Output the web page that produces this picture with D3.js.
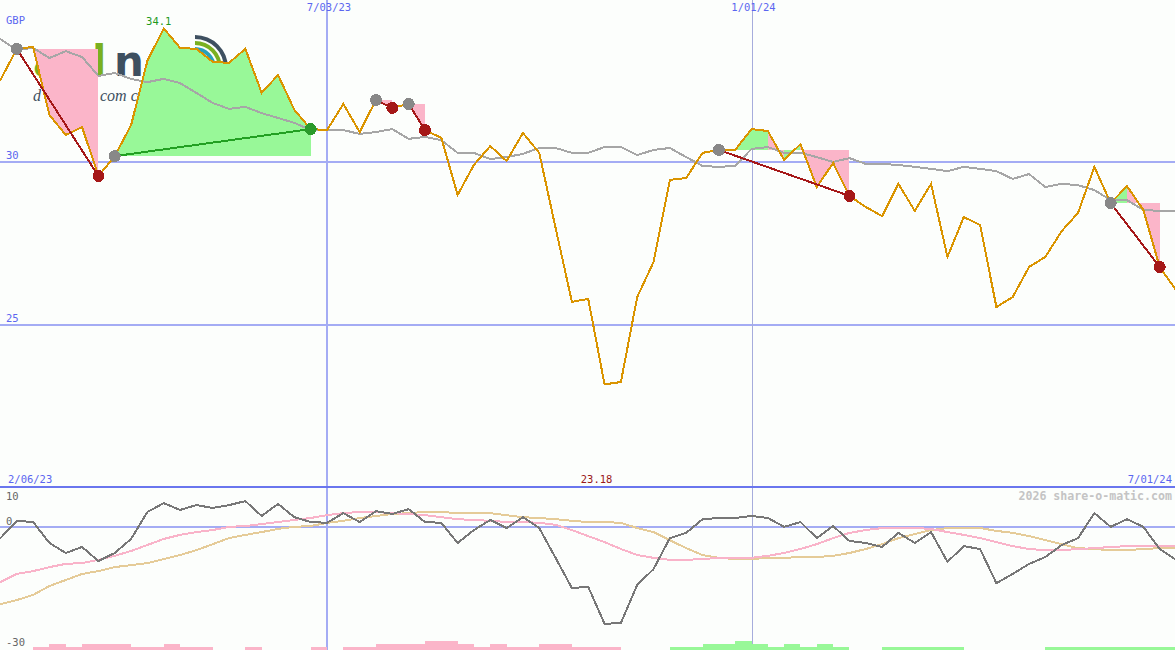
<!DOCTYPE html>
<html>
<head>
<meta charset="utf-8">
<script src="https://cdn.jsdelivr.net/npm/d3@7"></script>
<style>
  body { margin: 0; background: #fcfefc; overflow: hidden; }
  svg { display: block; font-family: "DejaVu Sans Mono", monospace; }
</style>
</head>
<body>
<div id="chart"></div>
<script>
// weekly closes, Mondays from firstWeek to lastWeek
var firstWeek = new Date(2023, 1, 6);
var lastWeek = new Date(2024, 6, 1);
var markerDates = [new Date(2023, 6, 3), new Date(2024, 0, 1)];

var price = [32.05, 32.52, 33.47, 33.53, 31.44, 30.83, 31.07, 29.57, 30.18, 31.13,
  33.10, 34.1, 33.50, 33.47, 33.07, 33.04, 33.47, 32.12, 32.67, 31.60,
  31.01, 30.98, 31.78, 30.92, 31.90, 31.66, 31.78, 30.98, 30.74, 28.99,
  29.91, 30.49, 30.03, 30.89, 30.28, 27.98, 25.71, 25.80, 23.18, 23.25,
  25.86, 26.93, 29.45, 29.51, 30.28, 30.37, 30.37, 31.01, 30.95, 30.06,
  30.55, 29.23, 29.97, 28.96, 28.62, 28.34, 29.33, 28.50, 29.33, 27.09,
  28.31, 28.07, 25.55, 25.86, 26.78, 27.09, 27.88, 28.44, 29.85, 28.74,
  29.26, 28.53, 26.78, 26.07];

var average = [33.90, 33.77, 33.44, 33.50, 33.19, 33.40, 33.22, 32.64, 32.73, 32.55,
  32.45, 32.55, 32.42, 32.12, 31.81, 31.63, 31.69, 31.50, 31.35, 31.20,
  30.98, 30.98, 30.98, 30.86, 30.92, 31.01, 30.71, 30.77, 30.67, 30.28,
  30.28, 30.09, 30.15, 30.25, 30.43, 30.43, 30.28, 30.28, 30.46, 30.46,
  30.21, 30.37, 30.43, 30.15, 29.88, 29.85, 29.88, 30.40, 30.46, 30.28,
  30.28, 30.15, 30.00, 30.12, 29.94, 29.94, 29.91, 29.85, 29.79, 29.72,
  29.85, 29.79, 29.72, 29.48, 29.63, 29.23, 29.33, 29.29, 29.14, 28.83,
  28.83, 28.53, 28.50, 28.50];

var momentum = [-4.4, -2.7, 1.6, 1.3, -3.9, -6.4, -4.9, -8.4, -6.4, -2.9,
  3.8, 6.0, 4.3, 5.5, 4.8, 5.5, 6.5, 2.8, 5.8, 2.5,
  1.3, 1.1, 3.5, 1.3, 4.0, 3.3, 4.5, 1.3, 1.1, -3.9,
  -0.7, 1.8, -0.2, 2.5, -0.2, -7.6, -15.1, -14.8, -24.0, -23.8,
  -14.3, -10.4, -2.7, -1.4, 2.0, 2.3, 2.3, 2.8, 2.3, 0.1,
  1.3, -2.7, 0.3, -3.4, -3.9, -4.9, -1.4, -3.9, -1.2, -8.6,
  -4.7, -5.4, -13.9, -11.6, -9.1, -7.4, -4.4, -2.7, 3.5, 0.1,
  2.0, 0.1, -5.4, -8.1];

var fastLine = [-14.3, -13.6, -11.6, -10.9, -9.9, -9.1, -8.9, -8.1, -7.1, -5.9,
  -4.4, -2.9, -1.9, -1.2, -0.7, 0.1, 0.3, 0.8, 1.3, 1.8,
  2.3, 3.0, 3.5, 3.8, 3.8, 3.5, 3.3, 3.0, 2.5, 2.0,
  1.8, 1.6, 1.3, 1.3, 1.1, 0.6, -0.7, -2.2, -3.7, -5.4,
  -6.9, -7.6, -8.1, -8.1, -7.9, -7.6, -7.6, -7.6, -7.1, -6.4,
  -5.4, -4.2, -2.7, -1.4, -0.7, -0.2, -0.2, -0.2, -0.4, -1.2,
  -1.9, -2.7, -3.7, -4.7, -5.4, -5.7, -5.7, -5.4, -5.2, -4.9,
  -4.7, -4.7, -4.7, -4.7];

var slowLine = [-19.8, -19.1, -18.1, -16.8, -14.6, -13.1, -11.6, -10.9, -9.9, -9.4,
  -8.9, -7.9, -6.9, -5.7, -4.2, -2.7, -1.9, -1.2, -0.4, 0.1,
  0.3, 1.1, 1.6, 2.3, 2.8, 3.3, 3.5, 3.8, 3.8, 3.5,
  3.5, 3.5, 3.0, 2.5, 2.3, 2.0, 1.6, 1.3, 1.3, 1.1,
  -0.2, -1.2, -3.2, -5.2, -6.9, -7.6, -7.9, -7.9, -7.6, -7.6,
  -7.4, -7.4, -7.1, -6.4, -5.4, -4.2, -2.7, -1.7, -0.7, -0.2,
  -0.2, -0.2, -0.9, -1.4, -2.2, -3.2, -4.2, -5.2, -5.4, -5.7,
  -5.7, -5.4, -5.2, -5.2];

// bar strip at the bottom: negative = pink, positive = green
var strength = [0, 0, 0, -1, -2, -1, -2, -2, -2, -1,
  -1, -2, -1, -1, 0, 0, -1, 0, 0, 0,
  -1, 0, -1, -1, -2, -2, -2, -3, -3, -2,
  -1, -2, -1, -1, -2, -2, -1, -1, -1, 0,
  0, 0, 1, 1, 2, 2, 3, 2, 1, 2,
  1, 2, 1, 0, 0, 1, 1, 1, 1, 1,
  0, 0, 0, 0, 0, 1, 1, 1, 1, 1,
  1, 1, 1, 1];

// signals, as week indexes
var tradeStart = [2, 8, 24, 26, 45, 69];
var tradeEnd = [7, 20, 25, 27, 53, 72];

var priceTicks = [30, 25];
var lowerTicks = [10, 0, -30];

var width = 1175;
var height = 650;

var weeks = d3.timeMonday.range(firstWeek, d3.timeDay.offset(lastWeek, 1));

var svg = d3.select("#chart").append("svg")
  .attr("width", width)
  .attr("height", height)
  .attr("shape-rendering", "crispEdges");

svg.append("rect").attr("width", width).attr("height", height).attr("fill", "#fcfefc");

var x = d3.scaleTime().domain(markerDates).range([327, 751.5]);
var y = d3.scaleLinear().domain([20, 35]).range([488, -1]);
var y2 = d3.scaleLinear().domain([-30, 10]).range([648, 487]);
var barH = d3.scaleLinear().domain([0, 3]).range([0, 9]);
var fmt = d3.timeFormat("%-m/%d/%y");

var blue = "#5b66f0";
var gridBlue = "#a4acf4";
var pink = "#fbb5c9";
var green = "#98f898";
var darkRed = "#a51818";

// ---------- watermark logo (mostly hidden under the fills) ----------
var logo = svg.append("g")
  .style("font-family", "DejaVu Sans").style("font-weight", "bold").style("font-size", "42px");
logo.append("text").attr("x", 33).attr("y", 76).attr("fill", "#7ab020").text("a");
logo.append("text").attr("x", 92).attr("y", 76).attr("fill", "#7ab020").text("l");
logo.append("text").attr("x", 114).attr("y", 76).attr("fill", "#3e5060").text("n");

var tagline = svg.append("g")
  .style("font-family", "Liberation Serif").style("font-style", "italic").style("font-size", "16px")
  .attr("fill", "#3e5060");
tagline.append("text").attr("x", 33).attr("y", 101).text("d");
tagline.append("text").attr("x", 100).attr("y", 101).text("com c");

var arcs = [[31, "#3e5060"], [25, "#7ab020"], [19, "#2aa0b8"]];
arcs.forEach(function(a) {
  logo.append("path")
    .attr("transform", "translate(195,68)")
    .attr("d", d3.arc().innerRadius(a[0] - 2).outerRadius(a[0] + 2).startAngle(0).endAngle(Math.PI / 2)())
    .attr("fill", a[1])
    .attr("shape-rendering", "auto");
});

// ---------- grid ----------
svg.selectAll(".pgrid")
  .data(priceTicks)
  .enter().append("line")
  .attr("x1", 0).attr("x2", width)
  .attr("y1", function(d) { return y(d); })
  .attr("y2", function(d) { return y(d); })
  .attr("stroke", gridBlue).attr("stroke-width", 2);

svg.append("line")
  .attr("x1", 0).attr("x2", width)
  .attr("y1", y2(0)).attr("y2", y2(0))
  .attr("stroke", gridBlue).attr("stroke-width", 2);

svg.selectAll(".vgrid")
  .data(markerDates)
  .enter().append("line")
  .attr("x1", function(d) { return Math.round(x(d)); })
  .attr("x2", function(d) { return Math.round(x(d)); })
  .attr("y1", 0).attr("y2", height)
  .attr("stroke", function(d, i) { return i == 0 ? gridBlue : "#a6acdc"; })
  .attr("stroke-width", function(d, i) { return i == 0 ? 2 : 1; });

svg.append("line")
  .attr("x1", 0).attr("x2", width)
  .attr("y1", y2(10)).attr("y2", y2(10))
  .attr("stroke", "#6a76ee").attr("stroke-width", 2);

// ---------- signal fills ----------
var fills = svg.append("g");
tradeStart.forEach(function(s, t) {
  var e = tradeEnd[t];
  var level = price[s];
  for (var i = s; i < e; i++) {
    var pts = [
      [x(weeks[i]), y(level)],
      [x(weeks[i]), y(price[i])],
      [x(weeks[i + 1]), y(price[i + 1])],
      [x(weeks[i + 1]), y(level)]
    ];
    fills.append("path")
      .attr("d", d3.line()(pts) + "Z")
      .attr("fill", price[i + 1] >= level ? green : pink);
  }
});

// ---------- price panel lines ----------
var priceLine = d3.line()
  .x(function(d, i) { return x(weeks[i]); })
  .y(function(d) { return y(d); });

svg.append("path").datum(average)
  .attr("d", priceLine)
  .attr("fill", "none").attr("stroke", "#a6a6a6").attr("stroke-width", 2);

svg.append("path").datum(price)
  .attr("d", priceLine)
  .attr("fill", "none").attr("stroke", "#da9400").attr("stroke-width", 2);

// lines joining signal start/end
svg.selectAll(".trade")
  .data(tradeStart)
  .enter().append("line")
  .attr("x1", function(d) { return x(weeks[d]); })
  .attr("y1", function(d) { return y(price[d]); })
  .attr("x2", function(d, i) { return x(weeks[tradeEnd[i]]); })
  .attr("y2", function(d, i) { return y(price[tradeEnd[i]]); })
  .attr("stroke", function(d, i) { return price[tradeEnd[i]] >= price[d] ? "#22a022" : darkRed; })
  .attr("stroke-width", 2);

svg.selectAll(".startDot")
  .data(tradeStart)
  .enter().append("circle")
  .attr("cx", function(d) { return x(weeks[d]); })
  .attr("cy", function(d) { return y(price[d]); })
  .attr("r", 6)
  .attr("fill", "#888888");

svg.selectAll(".endDot")
  .data(tradeEnd)
  .enter().append("circle")
  .attr("cx", function(d) { return x(weeks[d]); })
  .attr("cy", function(d) { return y(price[d]); })
  .attr("r", 6)
  .attr("fill", function(d, i) { return price[d] >= price[tradeStart[i]] ? "#2a9a2a" : darkRed; });

// ---------- lower panel ----------
var lowerLine = d3.line()
  .x(function(d, i) { return x(weeks[i]); })
  .y(function(d) { return y2(d); });

svg.append("path").datum(slowLine)
  .attr("d", lowerLine)
  .attr("fill", "none").attr("stroke", "#e5cb98").attr("stroke-width", 2);

svg.append("path").datum(fastLine)
  .attr("d", lowerLine)
  .attr("fill", "none").attr("stroke", "#f9b3c9").attr("stroke-width", 2);

svg.append("path").datum(momentum)
  .attr("d", lowerLine)
  .attr("fill", "none").attr("stroke", "#777777").attr("stroke-width", 2);

// each bar runs from its week to the next one
var barData = strength.slice(0, weeks.length - 1);
svg.selectAll(".bar")
  .data(barData)
  .enter().append("rect")
  .attr("x", function(d, i) { return x(weeks[i]); })
  .attr("width", function(d, i) { return x(weeks[i + 1]) - x(weeks[i]); })
  .attr("y", function(d) { return height - barH(Math.abs(d)); })
  .attr("height", function(d) { return barH(Math.abs(d)); })
  .attr("fill", function(d) { return d > 0 ? green : pink; });

// ---------- text ----------
svg.append("text").attr("x", 6).attr("y", 24)
  .attr("fill", blue).style("font-size", "10.5px").text("GBP");

svg.selectAll(".plabel")
  .data(priceTicks)
  .enter().append("text")
  .attr("x", 6)
  .attr("y", function(d) { return y(d) - 3; })
  .attr("fill", blue).style("font-size", "10.5px")
  .text(function(d) { return d; });

svg.selectAll(".llabel")
  .data(lowerTicks)
  .enter().append("text")
  .attr("x", 6)
  .attr("y", function(d) { return Math.max(y2(d) - 2, y2(10) + 13); })
  .attr("fill", "#666666").style("font-size", "10.5px")
  .text(function(d) { return d; });

svg.selectAll(".dlabel")
  .data(markerDates)
  .enter().append("text")
  .attr("x", function(d) { return x(d) + 2; })
  .attr("y", 11)
  .attr("text-anchor", "middle")
  .attr("fill", blue).style("font-size", "10.5px")
  .text(function(d) { return fmt(d); });

svg.append("text").attr("x", 8).attr("y", 483)
  .attr("fill", blue).style("font-size", "10.5px").text(fmt(weeks[0]));
svg.append("text").attr("x", 1172).attr("y", 483).attr("text-anchor", "end")
  .attr("fill", blue).style("font-size", "10.5px").text(fmt(weeks[weeks.length - 1]));

var hi = d3.maxIndex(price);
var lo = d3.minIndex(price);
svg.append("text").attr("x", x(weeks[hi]) - 5).attr("y", 25).attr("text-anchor", "middle")
  .attr("fill", "#1e9a1e").style("font-size", "10.5px").text(price[hi]);
svg.append("text").attr("x", x(weeks[lo]) - 8).attr("y", 483).attr("text-anchor", "middle")
  .attr("fill", "#9a1818").style("font-size", "10.5px").text(price[lo]);

svg.append("text").attr("x", 1172).attr("y", 500).attr("text-anchor", "end")
  .attr("fill", "#c4c4c4").style("font-size", "11.6px").style("font-weight", "bold")
  .text("2026 share-o-matic.com");
</script>
</body>
</html>
